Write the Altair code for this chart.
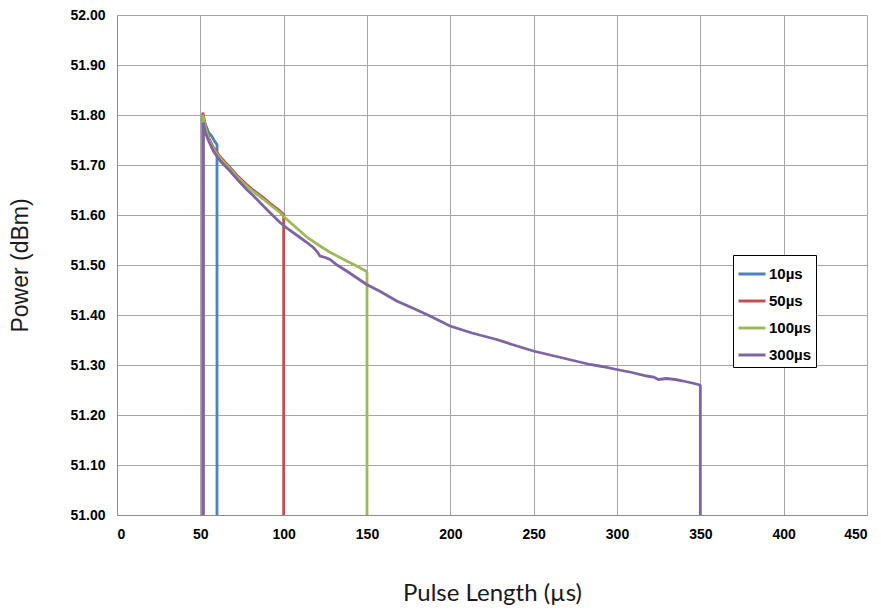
import altair as alt
import pandas as pd

series_names = ["10µs", "50µs", "100µs", "300µs"]
series_colors = ["#4F81BD", "#C0504D", "#9BBB59", "#8064A2"]

x_10 = [51.5, 51.5, 52.5, 53.8, 55, 56.8, 58.5, 59.8, 60, 60]
y_10 = [51.00, 51.79, 51.785, 51.775, 51.765, 51.758, 51.748, 51.742, 51.74, 51.00]

x_50 = [51.5, 51.5, 53, 55, 57.8, 62, 67.8, 72, 77.8, 82, 87.8, 92, 97.8, 100, 100]
y_50 = [51.00, 51.805, 51.78, 51.755, 51.735, 51.716, 51.695, 51.679, 51.661, 51.649,
        51.635, 51.623, 51.608, 51.601, 51.00]

x_100 = [51.5, 51.5, 53, 55, 57.8, 62, 67.8, 72, 77.8, 82, 87.8, 92, 97.8, 100,
         104, 109.8, 115, 121.8, 127, 133.8, 139, 143.8, 149.8, 150, 150]
y_100 = [51.00, 51.80, 51.776, 51.752, 51.732, 51.713, 51.692, 51.676, 51.658, 51.646,
         51.632, 51.620, 51.605, 51.597, 51.585, 51.568, 51.553, 51.538, 51.527, 51.515,
         51.506, 51.498, 51.487, 51.485, 51.00]

x_300 = [51.8, 51.8, 53, 55, 57.8, 62, 67.8, 72, 77.8, 82, 87.8, 92, 97.8, 103, 109.8,
         114, 117.8, 120, 121.8, 125, 127.8, 132, 137.8, 144, 149.8, 158, 167.8, 178,
         187.8, 199.8, 213, 227.8, 238, 249.8, 265, 283.8, 291, 299.8, 309, 317.8, 322,
         324.8, 329.8, 335, 339.8, 345, 348.8, 350, 350]
y_300 = [51.00, 51.785, 51.765, 51.748, 51.728, 51.708, 51.688, 51.672, 51.651, 51.638,
         51.618, 51.604, 51.585, 51.571, 51.555, 51.545, 51.535, 51.527, 51.518, 51.515,
         51.511, 51.500, 51.488, 51.474, 51.461, 51.447, 51.428, 51.413, 51.398, 51.378,
         51.364, 51.351, 51.340, 51.328, 51.316, 51.301, 51.297, 51.291, 51.285, 51.278,
         51.276, 51.271, 51.273, 51.271, 51.268, 51.264, 51.261, 51.259, 51.00]

x_ticks = [0, 50, 100, 150, 200, 250, 300, 350, 400, 450]
y_ticks = [51.0, 51.1, 51.2, 51.3, 51.4, 51.5, 51.6, 51.7, 51.8, 51.9, 52.0]

rows = []
for name, xs, ys in zip(series_names, [x_10, x_50, x_100, x_300], [y_10, y_50, y_100, y_300]):
    for i, (xv, yv) in enumerate(zip(xs, ys)):
        rows.append({"series": name, "x": xv, "y": yv, "i": i})
df = pd.DataFrame(rows)

chart = alt.Chart(df).mark_line(strokeWidth=2.8, clip=True).encode(
    x=alt.X("x:Q", scale=alt.Scale(domain=[0, 450], nice=False),
            axis=alt.Axis(values=x_ticks, title="Pulse Length (µs)", format="d",
                          labelPadding=12, titlePadding=40, titleFont="Lato",
                          titleFontSize=24)),
    y=alt.Y("y:Q", scale=alt.Scale(domain=[51.0, 52.0], nice=False, zero=False),
            axis=alt.Axis(values=y_ticks, title="Power (dBm)", format=".2f",
                          labelPadding=12, titlePadding=37, titleFont="Liberation Sans",
                          titleFontSize=23)),
    color=alt.Color("series:N", sort=series_names,
                    scale=alt.Scale(domain=series_names, range=series_colors),
                    legend=alt.Legend(title=None, orient="none", legendX=616, legendY=240,
                                      symbolType="stroke", symbolSize=729,
                                      symbolStrokeWidth=3, strokeColor="black",
                                      fillColor="white", padding=4, rowPadding=4,
                                      labelFontSize=15, labelFontWeight="bold",
                                      labelFont="Liberation Sans", labelColor="black",
                                      labelOffset=2)),
    detail="series:N",
    order=alt.Order("i:Q"),
).properties(
    width=750, height=500,
    autosize=alt.AutoSizeParams(type="none"),
    padding={"left": 109, "top": 7, "right": 6, "bottom": 93},
).configure_axis(
    labelFont="Liberation Sans", labelFontWeight="bold", labelFontSize=14,
    labelColor="black", ticks=False, grid=True, gridColor="#a6a6a6", gridWidth=1,
    domainColor="#8c8c8c", titleFontWeight="normal", titleColor="#1a1a1a",
).configure_view(stroke=None)

chart.save("out.html", embed_options={"renderer": "svg", "actions": False})
